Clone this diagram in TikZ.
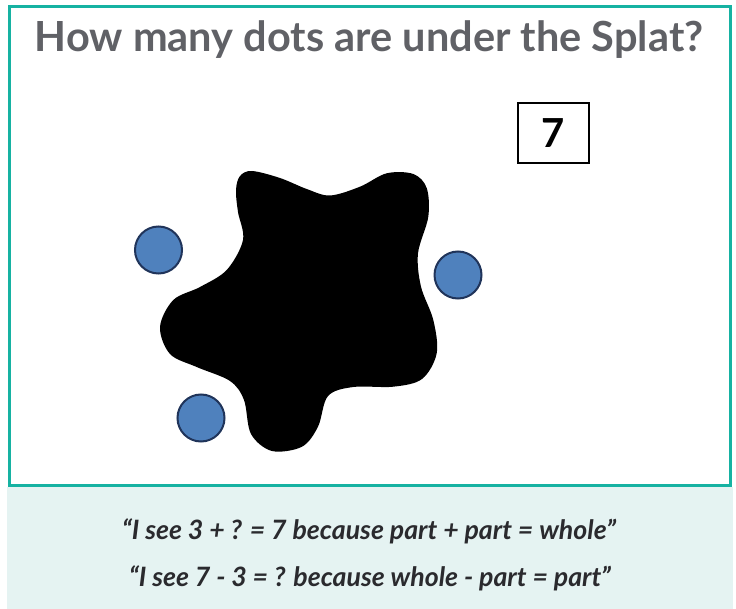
\documentclass[tikz,border=0pt]{standalone}
\usepackage{fontspec}
\setmainfont{Lato}
\usetikzlibrary{positioning}
\definecolor{splatteal}{RGB}{22,178,162}
\definecolor{splatpanel}{RGB}{229,243,242}
\definecolor{splatgray}{RGB}{96,97,102}
\definecolor{splattext}{RGB}{42,42,46}
\definecolor{dotblue}{RGB}{79,129,189}
\definecolor{dotedge}{RGB}{32,52,90}
\tikzset{
  ttl/.style={font=\fontsize{41.5}{46}\selectfont\bfseries, text=splatgray, anchor=base},
  numbox/.style={draw=black, line width=2pt, minimum width=71pt, minimum height=60pt,
                 font=\fontsize{40}{44}\selectfont\bfseries, inner sep=0pt},
  dot/.style={circle, draw=dotedge, line width=2pt, fill=dotblue, minimum size=47pt, inner sep=0pt},
  quote/.style={font=\fontsize{26.7}{30}\selectfont\bfseries\itshape, text=splattext, anchor=base},
}
\begin{document}
\begin{tikzpicture}[x=1pt, y=-1pt]
  \useasboundingbox (0,0) rectangle (736,609);
  % panel and frame
  \fill[splatpanel] (7,487) rectangle (733,609);
  \draw[splatteal, line width=3pt] (9,6.5) rectangle (730.5,485.5);
  \node[ttl] (title) at (369,52) {How many dots are under the Splat?};
  \node[numbox] (whole) at (553.5,133) {7};
  % the splat
  \fill[black] plot[smooth cycle, tension=0.55] coordinates {
    (236,190) (240,176) (252,171) (280,178) (306.7,189) (330,195.5)
    (360,186.7) (386.7,173.3) (413.3,174) (426.7,188) (428.3,216.7)
    (418,253.3) (421,286.7) (433.3,320) (436.7,353.3) (422,379)
    (393.3,386.7) (353.3,387) (328,396) (318,426.7) (302,446.7)
    (272,451) (251,434) (244,400) (230,381) (196.7,367)
    (170,354) (160,327) (173.3,300) (200,287) (226.7,270)
    (243,240) (238,212)};
  \node[dot] (dotleft) at (158.5,250) {};
  \node[dot] (dotright) at (458,275) {};
  \node[dot] (dotlow) at (201,418) {};
  \node[quote] (addline) at (369,539) {“I see 3 + ? = 7 because part + part = whole”};
  \node[quote] (subline) at (370,586) {“I see 7 - 3 = ? because whole - part = part”};
\end{tikzpicture}
\end{document}
